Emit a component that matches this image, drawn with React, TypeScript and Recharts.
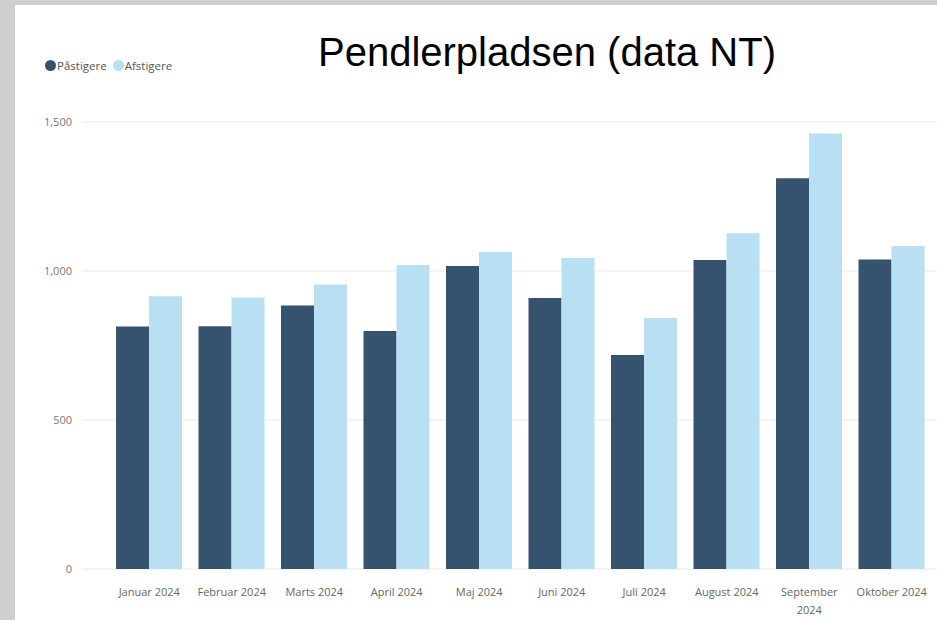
import React from "react";
import {
  BarChart,
  Bar,
  XAxis,
  YAxis,
  CartesianGrid,
} from "recharts";

// måneder og passagertal
const months = [
  "Januar 2024",
  "Februar 2024",
  "Marts 2024",
  "April 2024",
  "Maj 2024",
  "Juni 2024",
  "Juli 2024",
  "August 2024",
  "September 2024",
  "Oktober 2024",
];
const paastigere = [814, 815, 884, 799, 1017, 909, 718, 1037, 1311, 1039];
const afstigere = [915, 911, 955, 1020, 1064, 1044, 842, 1127, 1461, 1084];
const yTicks = [0, 500, 1000, 1500];

const DARK = "#35536f";
const LIGHT = "#b8dff2";
const FONT = "'Segoe UI', 'Open Sans', sans-serif";

const series = [
  { key: "paa", name: "Påstigere", color: DARK },
  { key: "af", name: "Afstigere", color: LIGHT },
];

const data = months.map((m, i) => ({
  month: m,
  paa: paastigere[i],
  af: afstigere[i],
}));

// lange etiketter brydes på to linjer, som i Power BI
function MonthTick(props: any) {
  const { x, y, payload } = props;
  const label = String(payload.value);
  const lines = label.length > 13 ? label.split(" ") : [label];
  return (
    <text
      x={x}
      y={y}
      textAnchor="middle"
      fill="#666666"
      style={{ fontSize: 11, fontFamily: FONT }}
    >
      {lines.map((l, i) => (
        <tspan key={i} x={x} dy={i === 0 ? "0.71em" : 18}>
          {l}
        </tspan>
      ))}
    </text>
  );
}

export default function App() {
  return (
    <div
      style={{
        position: "absolute",
        left: 0,
        top: 0,
        width: 937,
        height: 620,
        background: "#cfcfcf",
        overflow: "hidden",
      }}
    >
      <div
        style={{
          position: "absolute",
          left: 15,
          top: 5,
          width: 922,
          height: 615,
          background: "#ffffff",
        }}
      >
        <div
          style={{
            position: "absolute",
            left: 0,
            width: 1064,
            top: 25,
            textAlign: "center",
            fontFamily: "Arial, 'Liberation Sans', sans-serif",
            fontSize: 40,
            color: "#000",
            zIndex: 2,
          }}
        >
          Pendlerpladsen (data NT)
        </div>
        {/* legende */}
        <div
          style={{
            position: "absolute",
            left: 30,
            top: 53,
            display: "flex",
            alignItems: "center",
            fontFamily: FONT,
            fontSize: 11.5,
            color: "#555",
            zIndex: 2,
          }}
        >
          {series.map((s) => (
            <div key={s.key} style={{ display: "flex", alignItems: "center", marginRight: 6 }}>
              <span
                style={{
                  display: "inline-block",
                  width: 11,
                  height: 11,
                  borderRadius: "50%",
                  background: s.color,
                  marginRight: 1,
                }}
              />
              <span>{s.name}</span>
            </div>
          ))}
        </div>
        <BarChart
          width={922}
          height={615}
          data={data}
          margin={{ top: 117, right: 0, bottom: 11, left: 0 }}
          barGap={0}
          barSize={33}
        >
          <CartesianGrid vertical={false} stroke="#e9e9e9" strokeWidth={1} />
          <XAxis
            dataKey="month"
            axisLine={false}
            tickLine={false}
            tickSize={0}
            tickMargin={19}
            height={40}
            interval={0}
            padding={{ left: 26, right: 4 }}
            tick={<MonthTick />}
          />
          <YAxis
            width={67}
            domain={[0, 1500]}
            ticks={yTicks}
            axisLine={false}
            tickLine={false}
            tickSize={0}
            tickMargin={10}
            tickFormatter={(v: number) => v.toLocaleString("en-US")}
            tick={{ fill: "#777777", fontSize: 11, fontFamily: FONT }}
          />
          {series.map((s) => (
            <Bar key={s.key} dataKey={s.key} name={s.name} fill={s.color} isAnimationActive={false} />
          ))}
        </BarChart>
      </div>
    </div>
  );
}
